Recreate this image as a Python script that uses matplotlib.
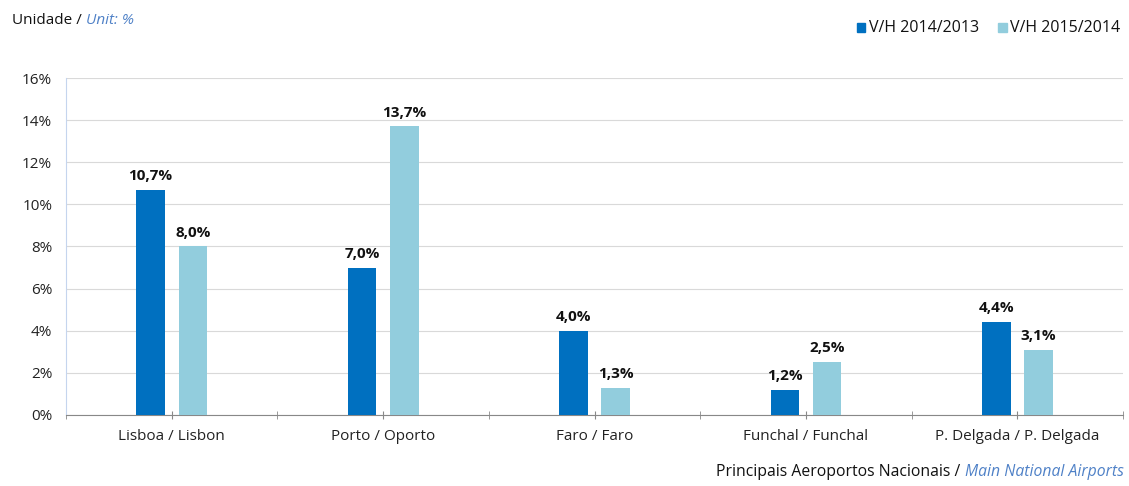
import numpy as np
import matplotlib; matplotlib.use("Agg"); import matplotlib.pyplot as plt
from matplotlib.ticker import FixedLocator

plt.rcParams["font.family"] = ["Open Sans", "DejaVu Sans"]

airports = ["Lisboa / Lisbon", "Porto / Oporto", "Faro / Faro", "Funchal / Funchal", "P. Delgada / P. Delgada"]
vh_2014 = [10.7, 7.0, 4.0, 1.2, 4.4]
vh_2015 = [8.0, 13.7, 1.3, 2.5, 3.1]
series_names = ["V/H 2014/2013", "V/H 2015/2014"]
labels_2014 = ["10,7%", "7,0%", "4,0%", "1,2%", "4,4%"]
labels_2015 = ["8,0%", "13,7%", "1,3%", "2,5%", "3,1%"]

DARK, LIGHT = "#0070C0", "#92CDDD"
FS = 11

fig = plt.figure(figsize=(11.29, 4.86), dpi=100)
ax = fig.add_axes([0.0585, 0.1461, 0.9363, 0.6934])
x = np.arange(len(airports))
w = 0.135
b1 = ax.bar(x - 0.1, vh_2014, w, color=DARK, zorder=3)
b2 = ax.bar(x + 0.1, vh_2015, w, color=LIGHT, zorder=3)
for bars, labs in ((b1, labels_2014), (b2, labels_2015)):
    for r, t in zip(bars, labs):
        ax.annotate(t, (r.get_x() + r.get_width() / 2, r.get_height()), xytext=(0, 5),
                    textcoords="offset points", ha="center", va="bottom",
                    fontsize=FS, fontweight="bold", color="#111111")

ax.set_xlim(-0.5, len(airports) - 0.5)
ax.set_ylim(0, 16)
ax.set_yticks(range(0, 17, 2))
ax.set_yticklabels([f"{v}%" for v in range(0, 17, 2)], fontsize=FS, color="#222222")
ax.set_xticks(x)
ax.set_xticklabels(airports, fontsize=FS, color="#222222")
ax.xaxis.set_minor_locator(FixedLocator(np.arange(-0.5, len(airports), 1.0)))
ax.tick_params(axis="x", which="both", length=6, color="#888888", direction="inout", pad=7)
ax.tick_params(axis="y", length=0, pad=10)
ax.grid(axis="y", color="#d9d9d9", linewidth=0.8, zorder=0)
for s in ("top", "right"):
    ax.spines[s].set_visible(False)
ax.spines["left"].set_color("#c5d5ee")
ax.spines["bottom"].set_color("#888888")

fig.text(0.0106, 0.958, "Unidade / ", fontsize=FS, color="#111111", va="center")
fig.text(0.0765, 0.958, "Unit: %", fontsize=FS, color="#4f81c7", style="italic", va="center")

# legend
fig.patches.append(plt.Rectangle((0.759, 0.935), 0.0075, 0.018, transform=fig.transFigure, color=DARK))
fig.text(0.7695, 0.943, series_names[0], fontsize=11.5, color="#111111", va="center")
fig.patches.append(plt.Rectangle((0.884, 0.935), 0.0075, 0.018, transform=fig.transFigure, color=LIGHT))
fig.text(0.8945, 0.943, series_names[1], fontsize=11.5, color="#111111", va="center")

fig.text(0.8545, 0.028, "Main National Airports", fontsize=11.3, color="#4f81c7", style="italic", va="center")
fig.text(0.8545, 0.028, "Principais Aeroportos Nacionais / ", fontsize=11.3, color="#111111", va="center", ha="right")

fig.savefig("out.png", dpi=100)
